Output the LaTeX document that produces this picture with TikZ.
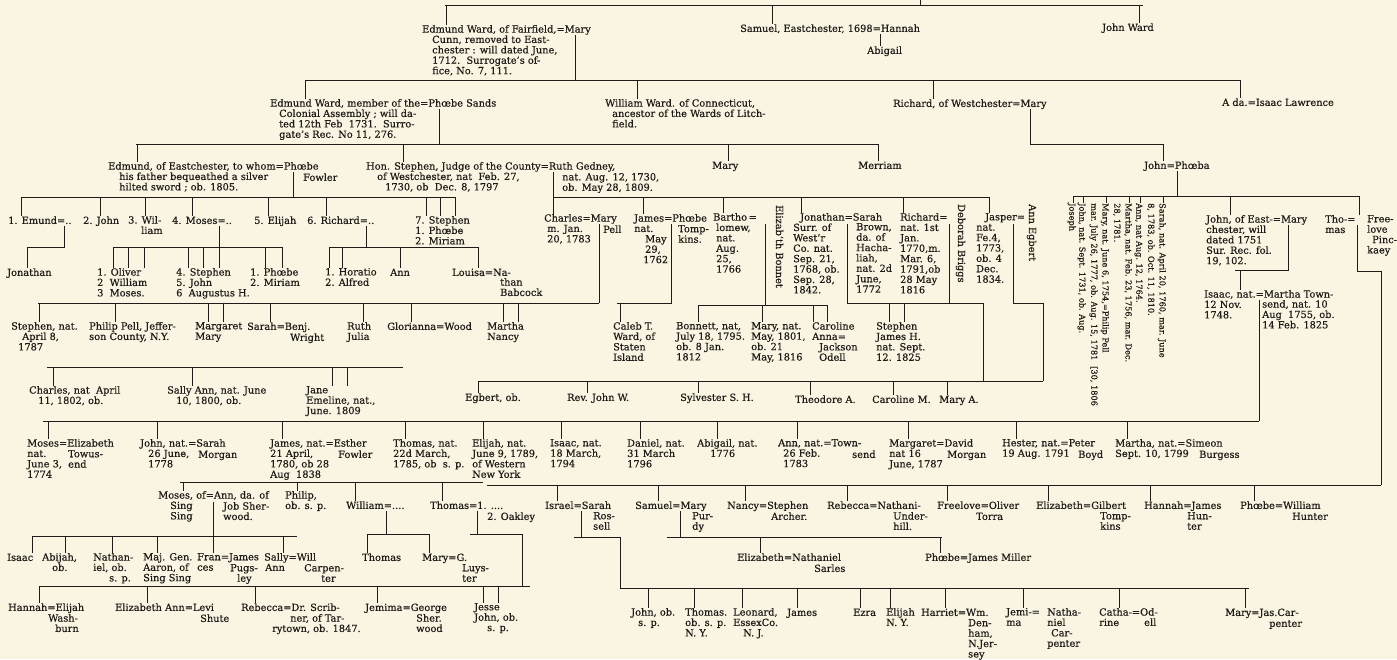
\documentclass[tikz,border=0pt]{standalone}
\usepackage{fontspec}
\setmainfont{DejaVu Serif}[FakeBold=0.4]
\definecolor{paper}{RGB}{250,245,226}
\definecolor{ink}{RGB}{30,27,24}
\tikzset{
  nm/.style={anchor=north west, inner sep=0pt, align=left, yshift=4.1pt, text=ink,
    font=\fontsize{9.8}{10.4}\selectfont, execute at begin node={\rule{0pt}{7.8pt}}},
  vt/.style={rotate=-90, anchor=north west, inner sep=0pt, align=left, text=ink,
    font=\fontsize{8.2}{11.3}\selectfont, execute at begin node={\rule{0pt}{6.4pt}}},
  vn/.style={rotate=-90, anchor=north west, inner sep=0pt, text=ink,
    font=\fontsize{9.8}{10.4}\selectfont, execute at begin node={\rule{0pt}{7.8pt}}},
  ln/.style={draw=ink, line width=0.8pt},
}
\begin{document}
\begin{tikzpicture}[x=1pt,y=-1pt]
\fill[paper] (0,0) rectangle (1397,659);
\useasboundingbox (0,0) rectangle (1397,659);

% first generation
\node[nm] (ewf) at (422,29) {Edmund Ward, of Fairfield,=Mary\\\hspace*{10pt}Cunn, removed to East-\\\hspace*{10pt}chester : will dated June,\\\hspace*{10pt}1712.\ \ Surrogate's of-\\\hspace*{10pt}fice, No. 7, 111.};
\node[nm] (sam) at (740,28) {Samuel, Eastchester, 1698=Hannah};
\node[nm] (abi) at (867,50) {Abigail};
\node[nm] (jwd) at (1102,27) {John Ward};
\draw[ln] (920,0) -- (920,5);
\draw[ln] (445,5) -- (1143,5);
\draw[ln] (446,5) -- (446,0 |- ewf.north);
\draw[ln] (772,5) -- (772,0 |- sam.north);
\draw[ln] (1139,5) -- (1139,0 |- jwd.north);
\draw[ln] (880,34) -- (880,0 |- abi.north);
\draw[ln] (575,35) -- (575,80);

% second generation
\node[nm] (ewm) at (270,103) {Edmund Ward, member of the=Phœbe Sands\\\hspace*{9pt}Colonial Assembly ; will da-\\\hspace*{9pt}ted 12th Feb\ \ 1731.\ \ Surro-\\\hspace*{9pt}gate's Rec. No 11, 276.};
\node[nm] (wwc) at (605,103) {William Ward. of Connecticut,\\\hspace*{7pt}ancestor of the Wards of Litch-\\\hspace*{7pt}field.};
\node[nm] (rwm) at (893,103) {Richard, of Westchester=Mary};
\node[nm] (ada) at (1222,102) {A da.=Isaac Lawrence};
\draw[ln] (305,80) -- (1241,80);
\draw[ln] (305,80) -- (305,0 |- ewm.north);
\draw[ln] (637,80) -- (637,0 |- wwc.north);
\draw[ln] (933,80) -- (933,0 |- rwm.north);
\draw[ln] (1240,80) -- (1240,0 |- ada.north);
\draw[ln] (439,109) -- (439,144);
\draw[ln] (1030,109) -- (1030,144) -- (1163,144);

% third generation
\node[nm] (ede) at (108,166) {Edmund, of Eastchester, to whom=Phœbe\\\hspace*{11pt}his father bequeathed a silver\\\hspace*{11pt}hilted sword ; ob. 1805.};
\node[nm] (fow) at (303,177) {Fowler};
\node[nm] (hst) at (366,166) {Hon. Stephen, Judge of the County=Ruth Gedney,\\\hspace*{11pt}of Westchester, nat\ \ Feb. 27,\\\hspace*{19pt}1730, ob\ \ Dec. 8, 1797};
\node[nm] (rgd) at (562,177) {nat. Aug. 12, 1730,\\ob. May 28, 1809.};
\node[nm] (mry) at (712,165) {Mary};
\node[nm] (mer) at (858,165) {Merriam};
\node[nm] (jph) at (1144,165) {John=Phœba};
\draw[ln] (136,144) -- (878,144);
\draw[ln] (137,144) -- (137,0 |- ede.north);
\draw[ln] (403,144) -- (403,0 |- hst.north);
\draw[ln] (728,144) -- (728,0 |- mry.north);
\draw[ln] (878,144) -- (878,0 |- mer.north);
\draw[ln] (1163,144) -- (1163,0 |- jph.north);
\draw[ln] (293,172) -- (293,197);
\draw[ln] (1177,171) -- (1177,196);

% children of Edmund and Phoebe Fowler
\node[nm] (em1) at (8,220) {1. Emund=..};
\node[nm] (em2) at (83,220) {2. John};
\node[nm] (em3) at (128,220) {3. Wil-\\\hspace*{13pt}liam};
\node[nm] (em4) at (172,220) {4. Moses=..};
\node[nm] (em5) at (254,220) {5. Elijah};
\node[nm] (em6) at (307,220) {6. Richard=..};
\node[nm] (em7) at (415,220) {7. Stephen\\1. Phœbe\\2. Miriam};
\draw[ln] (21,197) -- (455,197);
\foreach \x/\n in {21/em1,100/em2,145/em3,192/em4,268/em5,326/em6,426/em7,440/em7,455/em7}
  \draw[ln] (\x,197) -- (\x,0 |- \n.north);
\node[nm] (jon) at (7,272) {Jonathan};
\node[nm] (olv) at (97,272) {1. Oliver\\2\ \ William\\3\ \ Moses.};
\node[nm] (stp) at (176,272) {4. Stephen\\5. John\\6\ \ Augustus H.};
\node[nm] (phm) at (250,272) {1. Phœbe\\2. Miriam};
\node[nm] (hor) at (325,272) {1. Horatio\\2. Alfred};
\node[nm] (ann) at (390,272) {Ann};
\node[nm] (lou) at (452,272) {Louisa=Na-};
\node[nm] (bab) at (500,282) {than\\Babcock};
\draw[ln] (64,226) -- (64,247) -- (27,247) -- (27,0 |- jon.north);
\draw[ln] (219,226) -- (219,247);
\draw[ln] (113,247) -- (282,247);
\foreach \x/\n in {113/olv,128/olv,144/olv,188/stp,203/stp,219/stp,265/phm,282/phm}
  \draw[ln] (\x,247) -- (\x,0 |- \n.north);
\draw[ln] (366,226) -- (366,247);
\draw[ln] (329,247) -- (478,247);
\foreach \x/\n in {329/hor,342/hor,400/ann,478/lou}
  \draw[ln] (\x,247) -- (\x,0 |- \n.north);

% children of Hon. Stephen and Ruth Gedney
\node[nm] (chm) at (544,218) {Charles=Mary\\\hspace*{3pt}m. Jan.\\\hspace*{3pt}20, 1783};
\node[nm] (pel) at (603,229) {Pell};
\node[nm] (jam) at (634,218) {James=Phœbe\\nat.\\\hspace*{11pt}May\\\hspace*{11pt}29,\\\hspace*{9pt}1762};
\node[nm] (tom) at (678,229) {Tomp-\\kins.};
\node[nm] (bth) at (713,217) {Bartho\,=\\\hspace*{3pt}lomew,\\\hspace*{3pt}nat.\\\hspace*{3pt}Aug.\\\hspace*{3pt}25,\\\hspace*{3pt}1766};
\node[vn] (ebo) at (784,205) {Elizab'th Bonnet};
\node[nm] (jnt) at (793,217) {\hspace*{7pt}Jonathan=Sarah\\Surr. of\\West'r\\Co. nat.\\Sep. 21,\\1768, ob.\\Sep. 28,\\1842.};
\node[nm] (sbr) at (856,227) {Brown,\\da. of\\Hacha-\\liah,\\nat. 2d\\June,\\1772};
\node[nm] (rch) at (900,217) {Richard=\\nat. 1st\\Jan.\\1770,m.\\Mar. 6,\\1791,ob\\28 May\\1816};
\node[vn] (dbr) at (966,204) {Deborah Briggs};
\node[nm] (jas) at (976,217) {\hspace*{9pt}Jasper=\\nat.\\Fe.4,\\1773,\\ob. 4\\Dec.\\1834.};
\node[vn] (aeg) at (1037,204) {Ann Egbert};
\draw[ln] (553,172) -- (553,0 |- chm.north);
\draw[ln] (553,197) -- (989,197);
\foreach \x/\n in {643/jam,723/bth,801/jnt,903/rch,989/jas}
  \draw[ln] (\x,197) -- (\x,0 |- \n.north);
\draw[ln] (599,224) -- (599,303);
\draw[ln] (671,224) -- (671,303) -- (617,303);
\draw[ln] (765,224) -- (765,305);
\draw[ln] (847,224) -- (847,303);
\draw[ln] (949,224) -- (949,303);
\draw[ln] (1013,224) -- (1013,303) -- (1043,303) -- (1043,381);
\draw[ln] (847,303) -- (983,303) -- (983,381);

% grandchildren by Charles, James, Bartholomew, Jonathan
\node[nm] (snt) at (11,326) {Stephen, nat.\\\hspace*{11pt}April 8,\\\hspace*{7pt}1787};
\node[nm] (ppl) at (89,326) {Philip Pell, Jeffer-\\son County, N.Y.};
\node[nm] (mgm) at (195,326) {Margaret\\Mary};
\node[nm] (sbw) at (247,326) {Sarah=Benj.};
\node[nm] (wri) at (290,337) {Wright};
\node[nm] (rju) at (347,326) {Ruth\\Julia};
\node[nm] (glw) at (387,326) {Glorianna=Wood};
\node[nm] (mnc) at (487,326) {Martha\\Nancy};
\draw[ln] (38,303) -- (599,303);
\foreach \x/\n in {39/snt,115/ppl,208/mgm,223/mgm,270/sbw,363/rju,411/glw,503/mnc,518/mnc}
  \draw[ln] (\x,303) -- (\x,0 |- \n.north);
\node[nm] (cal) at (613,326) {Caleb T.\\Ward, of\\Staten\\Island};
\draw[ln] (620,303) -- (620,0 |- cal.north);
\node[nm] (bon) at (676,326) {Bonnett, nat,\\July 18, 1795.\\ob. 8 Jan.\\1812};
\node[nm] (mar) at (751,326) {Mary, nat.\\May, 1801,\\ob. 21\\May, 1816};
\node[nm] (car) at (812,326) {Caroline\\Anna=\\\hspace*{7pt}Jackson\\\hspace*{7pt}Odell};
\node[nm] (stj) at (876,326) {Stephen\\James H.\\nat. Sept.\\12. 1825};
\draw[ln] (698,305) -- (827,305);
\foreach \x/\n in {698/bon,762/mar,813/car,827/car}
  \draw[ln] (\x,305) -- (\x,0 |- \n.north);
\foreach \x in {889,904}
  \draw[ln] (\x,303) -- (\x,0 |- stj.north);

% children of Stephen
\node[nm] (chs) at (29,390) {Charles, nat\ \ April\\\hspace*{9pt}11, 1802, ob.};
\node[nm] (sal) at (167,390) {Sally Ann, nat. June\\\hspace*{9pt}10, 1800, ob.};
\node[nm] (jan) at (306,390) {Jane\\Emeline, nat.,\\June. 1809};
\draw[ln] (47,367) -- (403,367);
\foreach \x/\n in {53/chs,192/sal,332/jan,347/jan}
  \draw[ln] (\x,367) -- (\x,0 |- \n.north);

% children of Jasper and Ann Egbert
\node[nm] (egb) at (465,397) {Egbert, ob.};
\node[nm] (rev) at (567,397) {Rev. John W.};
\node[nm] (syl) at (680,397) {Sylvester S. H.};
\node[nm] (the) at (795,399) {Theodore A.};
\node[nm] (cam) at (872,399) {Caroline M.};
\node[nm] (mya) at (939,399) {Mary A.};
\draw[ln] (478,381) -- (1043,381);
\foreach \x/\n in {478/egb,587/rev,698/syl,810/the,893/cam,947/mya}
  \draw[ln] (\x,381) -- (\x,0 |- \n.north);

% children of John and Phoeba
\node[vt] (sar) at (1166,203) {Sarah, nat. April 20, 1760, mar. June\\8, 1783, ob. Oct. 11, 1810.};
\node[vt] (anw) at (1143,203) {Ann, nat Aug. 12, 1764.};
\node[vt] (mtn) at (1132,203) {Martha, nat. Feb. 23, 1756, mar. Dec.\\28, 1781.};
\node[vt] (myp) at (1109,203) {Mary, nat. June 6, 1754,=Philip Pell\\mar. July 26, 1777, ob. Aug. 15, 1781};
\node[vt] (jhn) at (1086,203) {John, nat. Sept. 1731, ob. Aug.};
\node[vt] (jh2) at (1098,366) {[30, 1806};
\node[vt] (jos) at (1076,203) {Joseph};
\node[nm] (jes) at (1206,219) {John, of East-=Mary\\chester, will\\dated 1751\\Sur. Rec. fol.\\19, 102.};
\node[nm] (tho) at (1325,219) {Tho-=\\mas};
\node[nm] (fre) at (1367,219) {Free-\\love\\\hspace*{5pt}Pinc-\\kaey};
\draw[ln] (1073,196) -- (1359,196);
\foreach \x/\n in {1073/jos,1083/jhn,1106/myp,1129/mtn,1140/anw,1163/sar}
  \draw[ln] (\x,196) -- (\x,0 |- \n.west);
\draw[ln] (1230,196) -- (1230,0 |- jes.north);
\draw[ln] (1359,196) -- (1359,0 |- tho.north);
\node[nm] (isa) at (1204,294) {Isaac, nat.=Martha Town-\\12 Nov.\\1748.};
\node[nm] (mtw) at (1262,304) {send, nat. 10\\Aug\ \ 1755, ob.\\14 Feb. 1825};
\draw[ln] (1288,225) -- (1288,270) -- (1235,270);
\draw[ln] (1240,270) -- (1240,0 |- isa.north);
\draw[ln] (1357,225) -- (1357,271) -- (1381,271) -- (1381,485);
\draw[ln] (1259,300) -- (1259,421);

% children of Isaac and Martha Townsend
\node[nm] (mse) at (27,443) {Moses=Elizabeth\\nat.\\June 3,\\1774};
\node[nm] (tow) at (68,454) {Towus-\\end};
\node[nm] (jsm) at (140,443) {John, nat.=Sarah\\\hspace*{8pt}26 June,\\\hspace*{8pt}1778};
\node[nm] (mrg) at (198,454) {Morgan};
\node[nm] (jef) at (270,443) {James, nat.=Esther\\21 April,\\1780, ob 28\\Aug\ \ 1838};
\node[nm] (fwl) at (338,454) {Fowler};
\node[nm] (tmn) at (393,443) {Thomas, nat.\\22d March,\\1785, ob\ \ s. p.};
\node[nm] (ejn) at (472,443) {Elijah, nat.\\June 9, 1789,\\of Western\\New York};
\node[nm] (isn) at (550,443) {Isaac, nat.\\18 March,\\1794};
\node[nm] (dan) at (627,443) {Daniel, nat.\\31 March\\1796};
\node[nm] (abg) at (697,443) {Abigail, nat.\\\hspace*{13pt}1776};
\node[nm] (ant) at (778,443) {Ann, nat.=Town-\\\hspace*{5pt}26 Feb.\\\hspace*{5pt}1783};
\node[nm] (snd) at (852,454) {send};
\node[nm] (mdm) at (889,443) {Margaret=David\\nat 16\\June, 1787};
\node[nm] (mgn) at (947,454) {Morgan};
\node[nm] (hpb) at (1002,443) {Hester, nat.=Peter\\19 Aug. 1791};
\node[nm] (boy) at (1078,454) {Boyd};
\node[nm] (msb) at (1115,443) {Martha, nat.=Simeon\\Sept. 10, 1799};
\node[nm] (bur) at (1199,454) {Burgess};
\draw[ln] (43,421) -- (1259,421);
\foreach \x/\n in {48/mse,157/jsm,282/jef,405/tmn,483/ejn,561/isn,640/dan,717/abg,797/ant,908/mdm,1016/hpb,1127/msb}
  \draw[ln] (\x,421) -- (\x,0 |- \n.north);

% children of James and Esther Fowler
\node[nm] (mos) at (158,495) {Moses, of=Ann, da. of\\\hspace*{12pt}Sing\\\hspace*{12pt}Sing};
\node[nm] (job) at (223,506) {Job Sher-\\wood.};
\node[nm] (phi) at (285,495) {Philip,\\ob. s. p.};
\node[nm] (wil) at (346,505) {William=....};
\node[nm] (thm) at (430,505) {Thomas=1. ....};
\node[nm] (oak) at (487,516) {2. Oakley};
\draw[ln] (180,482) -- (483,482);
\foreach \x/\n in {183/mos,297/phi,355/wil,442/thm}
  \draw[ln] (\x,482) -- (\x,0 |- \n.north);

% children of Thomas and Freelove Pinckney
\node[nm] (isr) at (545,505) {Israel=Sarah};
\node[nm] (ros) at (593,516) {Ros-\\sell};
\node[nm] (smm) at (635,505) {Samuel=Mary};
\node[nm] (pur) at (692,516) {Pur-\\dy};
\node[nm] (nan) at (727,505) {Nancy=Stephen};
\node[nm] (arc) at (771,516) {Archer.};
\node[nm] (reb) at (827,505) {Rebecca=Nathani-};
\node[nm] (und) at (893,516) {Under-\\hill.};
\node[nm] (frl) at (937,505) {Freelove=Oliver};
\node[nm] (tor) at (976,516) {Torra};
\node[nm] (eli) at (1036,505) {Elizabeth=Gilbert};
\node[nm] (tmp) at (1100,516) {Tomp-\\kins};
\node[nm] (han) at (1144,505) {Hannah=James};
\node[nm] (hun) at (1187,516) {Hun-\\ter};
\node[nm] (pho) at (1240,505) {Phœbe=William};
\node[nm] (hnt) at (1292,516) {Hunter};
\draw[ln] (487,485) -- (1381,485);
\foreach \x/\n in {557/isr,658/smm,745/nan,847/reb,947/frl,1048/eli,1150/han,1254/pho}
  \draw[ln] (\x,485) -- (\x,0 |- \n.north);

% children of Moses of Sing Sing
\node[nm] (isc) at (7,557) {Isaac};
\node[nm] (abj) at (42,557) {Abijah,\\\hspace*{10pt}ob.};
\node[nm] (ntl) at (93,557) {Nathan-\\iel, ob.\\\hspace*{16pt}s. p.};
\node[nm] (maj) at (143,557) {Maj. Gen.\\Aaron, of\\Sing Sing};
\node[nm] (frj) at (197,557) {Fran=James\\ces};
\node[nm] (pug) at (230,568) {Pugs-\\\hspace*{7pt}ley};
\node[nm] (saw) at (264,557) {Sally=Will\\\hspace*{1pt}Ann};
\node[nm] (cpt) at (304,568) {Carpen-\\\hspace*{17pt}ter};
\draw[ln] (213,502) -- (213,536);
\draw[ln] (33,536) -- (297,536);
\foreach \x/\n in {32/isc,65/abj,112/ntl,157/maj,213/frj,283/saw}
  \draw[ln] (\x,536) -- (\x,0 |- \n.north);

% children of William and Thomas
\node[nm] (wth) at (362,557) {Thomas};
\node[nm] (mgl) at (422,557) {Mary=G.};
\node[nm] (luy) at (462,568) {Luys-\\ter};
\draw[ln] (386,511) -- (386,534);
\draw[ln] (367,534) -- (429,534);
\draw[ln] (367,534) -- (367,0 |- wth.north);
\draw[ln] (429,534) -- (429,0 |- mgl.north);
\draw[ln] (477,511) -- (477,534) -- (522,534) -- (522,586);
\draw[ln] (470,534) -- (477,534);

\node[nm] (hew) at (8,607) {Hannah=Elijah};
\node[nm] (was) at (48,618) {Wash-\\\hspace*{7pt}burn};
\node[nm] (eal) at (115,607) {Elizabeth Ann=Levi};
\node[nm] (shu) at (200,618) {Shute};
\node[nm] (rds) at (241,607) {Rebecca=Dr. Scrib-};
\node[nm] (ner) at (272,618) {\hspace*{18pt}ner, of Tar-\\rytown, ob. 1847.};
\node[nm] (jgs) at (365,607) {Jemima=George};
\node[nm] (shw) at (416,618) {Sher.\\wood};
\node[nm] (jjo) at (474,607) {Jesse\\John, ob.\\\hspace*{13pt}s. p.};
\draw[ln] (40,586) -- (530,586);
\foreach \x/\n in {39/hew,147/eal,255/rds,377/jgs,483/jjo,498/jjo}
  \draw[ln] (\x,586) -- (\x,0 |- \n.north);

% children of Samuel and of Israel
\node[nm] (ens) at (737,557) {Elizabeth=Nathaniel};
\node[nm] (srl) at (814,568) {Sarles};
\node[nm] (pjm) at (925,557) {Phœbe=James Miller};
\draw[ln] (680,511) -- (680,537);
\draw[ln] (667,537) -- (942,537);
\draw[ln] (760,537) -- (760,0 |- ens.north);
\draw[ln] (940,537) -- (940,0 |- pjm.north);
\draw[ln] (581,511) -- (581,537);
\draw[ln] (574,537) -- (620,537) -- (620,588);
\node[nm] (jnb) at (631,612) {John, ob.\\\hspace*{7pt}s. p.};
\node[nm] (tms) at (685,612) {Thomas.\\ob. s. p.\\N. Y.};
\node[nm] (leo) at (733,612) {Leonard,\\EssexCo.\\\hspace*{10pt}N. J.};
\node[nm] (jms) at (787,612) {James};
\node[nm] (ezr) at (853,612) {Ezra};
\node[nm] (elj) at (886,612) {Elijah\\N. Y.};
\node[nm] (hwd) at (921,612) {Harriet=Wm.};
\node[nm] (den) at (968,623) {Den-\\ham,\\N.Jer-\\sey};
\node[nm] (jnc) at (1006,612) {Jemi-=\\ma};
\node[nm] (nth) at (1047,612) {Natha-\\niel\\\hspace*{4pt}Car-\\penter};
\node[nm] (cod) at (1099,612) {Catha-=Od-\\rine};
\node[nm] (ell) at (1144,622) {ell};
\node[nm] (mjc) at (1225,612) {Mary=Jas.Car-};
\node[nm] (pnt) at (1269,623) {penter};
\draw[ln] (620,588) -- (1249,588);
\foreach \x/\n in {648/jnb,694/tms,742/leo,797/jms,860/ezr,890/elj,945/hwd,1023/jnc,1119/cod,1245/mjc}
  \draw[ln] (\x,588) -- (\x,0 |- \n.north);
\end{tikzpicture}
\end{document}
